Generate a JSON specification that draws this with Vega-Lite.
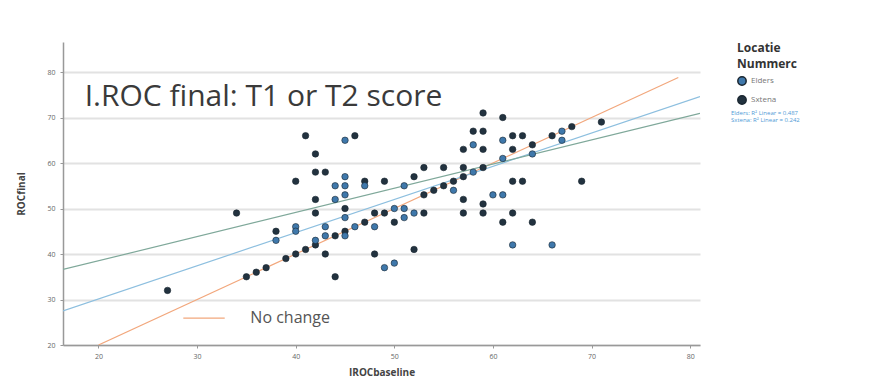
{
  "$schema": "https://vega.github.io/schema/vega-lite/v6.json",
  "autosize": {"type": "none"},
  "padding": {"left": 63, "top": 42, "right": 172, "bottom": 38},
  "width": 637,
  "height": 303,
  "background": "white",
  "config": {
    "view": {"stroke": null},
    "font": "Open Sans",
    "axis": {"domainColor": "#999", "domainWidth": 1.5, "tickColor": "#999", "tickSize": 3, "labelColor": "#666", "labelFontSize": 7, "titleColor": "#444", "titleFontSize": 10, "titleFontWeight": "bold"}
  },
  "datasets": {
    "pts": [
      {"x": 27, "y": 32, "loc": "Sxtena"}, {"x": 34, "y": 49, "loc": "Sxtena"}, {"x": 35, "y": 35, "loc": "Sxtena"},
      {"x": 36, "y": 36, "loc": "Sxtena"}, {"x": 37, "y": 37, "loc": "Sxtena"}, {"x": 39, "y": 39, "loc": "Sxtena"},
      {"x": 40, "y": 40, "loc": "Sxtena"}, {"x": 41, "y": 41, "loc": "Sxtena"}, {"x": 41, "y": 66, "loc": "Sxtena"},
      {"x": 42, "y": 62, "loc": "Sxtena"}, {"x": 42, "y": 58, "loc": "Sxtena"}, {"x": 43, "y": 58, "loc": "Sxtena"},
      {"x": 40, "y": 56, "loc": "Sxtena"}, {"x": 42, "y": 52, "loc": "Sxtena"}, {"x": 42, "y": 49, "loc": "Sxtena"},
      {"x": 38, "y": 45, "loc": "Sxtena"}, {"x": 44, "y": 35, "loc": "Sxtena"}, {"x": 46, "y": 66, "loc": "Sxtena"},
      {"x": 48, "y": 40, "loc": "Sxtena"}, {"x": 52, "y": 41, "loc": "Sxtena"}, {"x": 49, "y": 49, "loc": "Sxtena"},
      {"x": 48, "y": 49, "loc": "Sxtena"}, {"x": 53, "y": 49, "loc": "Sxtena"}, {"x": 47, "y": 56, "loc": "Sxtena"},
      {"x": 49, "y": 56, "loc": "Sxtena"}, {"x": 52, "y": 57, "loc": "Sxtena"}, {"x": 53, "y": 59, "loc": "Sxtena"},
      {"x": 55, "y": 59, "loc": "Sxtena"}, {"x": 57, "y": 59, "loc": "Sxtena"}, {"x": 59, "y": 59, "loc": "Sxtena"},
      {"x": 57, "y": 57, "loc": "Sxtena"}, {"x": 56, "y": 56, "loc": "Sxtena"}, {"x": 55, "y": 55, "loc": "Sxtena"},
      {"x": 54, "y": 54, "loc": "Sxtena"}, {"x": 53, "y": 53, "loc": "Sxtena"}, {"x": 57, "y": 63, "loc": "Sxtena"},
      {"x": 59, "y": 63, "loc": "Sxtena"}, {"x": 58, "y": 67, "loc": "Sxtena"}, {"x": 59, "y": 67, "loc": "Sxtena"},
      {"x": 59, "y": 71, "loc": "Sxtena"}, {"x": 61, "y": 70, "loc": "Sxtena"}, {"x": 62, "y": 66, "loc": "Sxtena"},
      {"x": 63, "y": 66, "loc": "Sxtena"}, {"x": 66, "y": 66, "loc": "Sxtena"}, {"x": 68, "y": 68, "loc": "Sxtena"},
      {"x": 71, "y": 69, "loc": "Sxtena"}, {"x": 69, "y": 56, "loc": "Sxtena"}, {"x": 62, "y": 56, "loc": "Sxtena"},
      {"x": 63, "y": 56, "loc": "Sxtena"}, {"x": 57, "y": 49, "loc": "Sxtena"}, {"x": 59, "y": 49, "loc": "Sxtena"},
      {"x": 62, "y": 49, "loc": "Sxtena"}, {"x": 61, "y": 47, "loc": "Sxtena"}, {"x": 64, "y": 47, "loc": "Sxtena"},
      {"x": 57, "y": 52, "loc": "Sxtena"}, {"x": 59, "y": 51, "loc": "Sxtena"}, {"x": 64, "y": 64, "loc": "Sxtena"},
      {"x": 62, "y": 63, "loc": "Sxtena"}, {"x": 45, "y": 50, "loc": "Sxtena"}, {"x": 45, "y": 45, "loc": "Sxtena"},
      {"x": 44, "y": 44, "loc": "Sxtena"}, {"x": 42, "y": 42, "loc": "Sxtena"}, {"x": 47, "y": 47, "loc": "Sxtena"},
      {"x": 50, "y": 47, "loc": "Sxtena"}, {"x": 43, "y": 40, "loc": "Sxtena"},
      {"x": 45, "y": 65, "loc": "Elders"}, {"x": 45, "y": 57, "loc": "Elders"}, {"x": 44, "y": 55, "loc": "Elders"},
      {"x": 45, "y": 55, "loc": "Elders"}, {"x": 47, "y": 55, "loc": "Elders"}, {"x": 51, "y": 55, "loc": "Elders"},
      {"x": 45, "y": 53, "loc": "Elders"}, {"x": 44, "y": 52, "loc": "Elders"}, {"x": 40, "y": 46, "loc": "Elders"},
      {"x": 40, "y": 45, "loc": "Elders"}, {"x": 43, "y": 46, "loc": "Elders"}, {"x": 43, "y": 44, "loc": "Elders"},
      {"x": 45, "y": 44, "loc": "Elders"}, {"x": 46, "y": 46, "loc": "Elders"}, {"x": 42, "y": 43, "loc": "Elders"},
      {"x": 38, "y": 43, "loc": "Elders"}, {"x": 45, "y": 48, "loc": "Elders"}, {"x": 48, "y": 46, "loc": "Elders"},
      {"x": 50, "y": 50, "loc": "Elders"}, {"x": 51, "y": 50, "loc": "Elders"}, {"x": 51, "y": 48, "loc": "Elders"},
      {"x": 52, "y": 49, "loc": "Elders"}, {"x": 58, "y": 64, "loc": "Elders"}, {"x": 58, "y": 58, "loc": "Elders"},
      {"x": 56, "y": 54, "loc": "Elders"}, {"x": 60, "y": 53, "loc": "Elders"}, {"x": 61, "y": 53, "loc": "Elders"},
      {"x": 61, "y": 61, "loc": "Elders"}, {"x": 61, "y": 65, "loc": "Elders"}, {"x": 62, "y": 42, "loc": "Elders"},
      {"x": 66, "y": 42, "loc": "Elders"}, {"x": 49, "y": 37, "loc": "Elders"}, {"x": 50, "y": 38, "loc": "Elders"},
      {"x": 67, "y": 67, "loc": "Elders"}, {"x": 67, "y": 65, "loc": "Elders"}, {"x": 64, "y": 62, "loc": "Elders"}
    ],
    "fits": [
      {"x": 16.4, "y": 27.5, "fit": "Elders: R² Linear = 0.487"},
      {"x": 81, "y": 74.6, "fit": "Elders: R² Linear = 0.487"},
      {"x": 16.4, "y": 36.6, "fit": "Sxtena: R² Linear = 0.242"},
      {"x": 81, "y": 70.9, "fit": "Sxtena: R² Linear = 0.242"}
    ],
    "ref": [
      {"x": 20, "y": 20, "g": "main"}, {"x": 78.8, "y": 78.8, "g": "main"},
      {"x": 28.6, "y": 25.9, "g": "key"}, {"x": 32.8, "y": 25.9, "g": "key"}
    ],
    "notes": [
      {"x": 35.4, "y": 25.9, "t": "No change", "k": "small"},
      {"x": 18.6, "y": 74.5, "t": "I.ROC final: T1 or T2 score", "k": "big"}
    ]
  },
  "layer": [
    {
      "data": {"name": "ref"},
      "mark": {"type": "line", "color": "#f2a77c", "strokeWidth": 1.2, "clip": true},
      "encoding": {
        "x": {"field": "x", "type": "quantitative", "scale": {"domain": [16.4, 81], "nice": false, "zero": false},
              "axis": {"values": [20, 30, 40, 50, 60, 70, 80], "grid": false, "title": "IROCbaseline", "titlePadding": 8, "labelPadding": 4}},
        "y": {"field": "y", "type": "quantitative", "scale": {"domain": [20, 86.6], "nice": false, "zero": false},
              "axis": {"values": [20, 30, 40, 50, 60, 70, 80], "grid": true, "gridColor": "#e2e2e2", "gridWidth": 2, "title": "ROCfinal", "titlePadding": 20, "labelPadding": 5}},
        "detail": {"field": "g"}
      }
    },
    {
      "data": {"name": "fits"},
      "mark": {"type": "line", "strokeWidth": 1.2, "clip": true},
      "encoding": {
        "x": {"field": "x", "type": "quantitative"},
        "y": {"field": "y", "type": "quantitative"},
        "stroke": {"field": "fit", "type": "nominal",
                   "scale": {"range": ["#8dbfdf", "#7fa89a"]},
                   "legend": {"title": null, "orient": "none", "legendX": 672, "legendY": 68, "labelColor": "#4f9ad6", "labelFontSize": 6, "symbolType": "stroke", "symbolSize": 0, "symbolOpacity": 0, "symbolOffset": -14, "rowPadding": 1}}
      }
    },
    {
      "data": {"name": "pts"},
      "mark": {"type": "point", "filled": true, "size": 42, "opacity": 1, "stroke": "#1a2630", "strokeWidth": 0.6},
      "encoding": {
        "x": {"field": "x", "type": "quantitative"},
        "y": {"field": "y", "type": "quantitative"},
        "fill": {"field": "loc", "type": "nominal",
                 "scale": {"domain": ["Elders", "Sxtena"], "range": ["#3f78ab", "#22323f"]},
                 "legend": {"title": ["Locatie", "Nummerc"], "orient": "none", "legendX": 674, "legendY": 1, "titleFontSize": 12, "titleFontWeight": "bold", "titleColor": "#333", "titleLineHeight": 16, "labelFontSize": 8, "labelColor": "#777", "symbolType": "circle", "symbolSize": 70, "rowPadding": 3}}
      }
    },
    {
      "data": {"name": "notes"},
      "transform": [{"filter": "datum.k == 'big'"}],
      "mark": {"type": "text", "align": "left", "baseline": "middle", "fontSize": 30, "color": "#3a3a3a"},
      "encoding": {
        "x": {"field": "x", "type": "quantitative"},
        "y": {"field": "y", "type": "quantitative"},
        "text": {"field": "t"}
      }
    },
    {
      "data": {"name": "notes"},
      "transform": [{"filter": "datum.k == 'small'"}],
      "mark": {"type": "text", "align": "left", "baseline": "middle", "fontSize": 16, "color": "#555"},
      "encoding": {
        "x": {"field": "x", "type": "quantitative"},
        "y": {"field": "y", "type": "quantitative"},
        "text": {"field": "t"}
      }
    }
  ],
  "resolve": {"legend": {"fill": "independent", "stroke": "independent"}}
}
